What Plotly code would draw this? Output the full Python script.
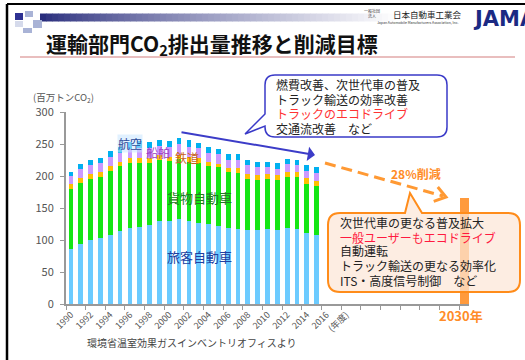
import math
import plotly.graph_objects as go

FONT = "Noto Sans CJK JP"

# ---------------- data (million t-CO2) ----------------
years = list(range(1990, 2016))
passenger = [86, 94, 100, 103, 108, 114, 118.5, 121, 123, 129, 129, 133, 130,
             127, 125, 122, 118.5, 117, 115, 116, 116.5, 116, 118, 117, 111, 108]
freight = [93, 95.5, 95.5, 95.5, 100, 101, 102.5, 100, 98, 96.5, 94, 93, 92,
           94, 91, 91.5, 87, 88, 81, 78, 79.5, 77, 80, 81, 76.5, 76]
rail = [7.8, 7.4, 7.8, 7.2, 7.7, 7.3, 6.7, 7, 7, 7, 7, 7.5, 7.5,
        7, 6, 6, 6.9, 7.8, 7.2, 7.8, 7.2, 8.9, 8.4, 7.8, 9.4, 8.9]
ship = [13, 14.5, 14.6, 14.7, 14, 14, 15, 16, 15, 14, 15, 16.5, 16,
        15.5, 14.7, 14.3, 12.5, 12.5, 13.6, 11.5, 10.7, 9.4, 12.5, 11, 10.4, 12]
aviation = [6.6, 7.8, 7.8, 7.7, 9.5, 8.7, 10.3, 10, 9.5, 9, 10, 9, 10,
            8, 8.7, 8, 9.4, 9.4, 8.9, 8.3, 8.3, 8.9, 8.3, 8.9, 10.4, 8.8]
target_year = [2030]
target_value = [165]

tick_years = list(range(1990, 2017, 2)) + [2018]
tick_text = [str(y) for y in range(1990, 2017, 2)] + ["(年度)"]
boundary_ticks = [1989.5 + 2 * i for i in range(21)]
y_ticks = [0, 50, 100, 150, 200, 250, 300]

# ---------------- geometry helpers ----------------
W, H = 525, 360
L, R, T, B = 66, 469, 112, 304


def px(x):
    return (x - L) / (R - L)


def py(y):
    return (B - y) / (B - T)


def P(x, y):
    return f"{px(x):.5f},{py(y):.5f}"


fig = go.Figure()
series = [
    ("旅客自動車", passenger, "#6CCBFF"),
    ("貨物自動車", freight, "#14E614"),
    ("鉄道", rail, "#FFC000"),
    ("船舶", ship, "#CC99FF"),
    ("航空", aviation, "#00B0F0"),
]
for name, vals, col in series:
    fig.add_trace(go.Bar(x=years, y=vals, name=name, width=0.48,
                         marker=dict(color=col, line=dict(width=0))))
fig.add_trace(go.Bar(x=target_year, y=target_value, name="2030", width=0.9,
                     marker=dict(color="#FF9A3C", line=dict(width=0))))

shapes = []
ann = []


def text(s, x, y, size, color, xa="center", ya="middle", bold=False, bg=None):
    if bold:
        s = f"<b>{s}</b>"
    d = dict(text=s, x=px(x), y=py(y), xref="paper", yref="paper",
             showarrow=False, xanchor=xa, yanchor=ya,
             font=dict(size=size, color=color, family=FONT))
    if bg:
        d["bgcolor"] = bg
        d["borderpad"] = 0
    ann.append(d)


# ---- slide frame ----
shapes.append(dict(type="line", xref="paper", yref="paper", x0=px(7), x1=px(526),
                   y0=py(4), y1=py(4), line=dict(color="black", width=2), layer="above"))
shapes.append(dict(type="line", xref="paper", yref="paper", x0=px(7), x1=px(7),
                   y0=py(4), y1=py(361), line=dict(color="black", width=2.5), layer="above"))

# ---- header gradient bar ----
c0 = (40, 44, 124)
c1 = (255, 255, 255)
n = 60
gx0, gx1 = 40, 400
for i in range(n):
    t = i / (n - 1)
    t2 = t ** 0.8
    col = tuple(int(c0[k] + (c1[k] - c0[k]) * t2) for k in range(3))
    xa = gx0 + (gx1 - gx0) * i / n
    xb = gx0 + (gx1 - gx0) * (i + 1) / n + 0.5
    shapes.append(dict(type="rect", xref="paper", yref="paper", x0=px(xa), x1=px(xb),
                       y0=py(13.5), y1=py(21.5), line=dict(width=0),
                       fillcolor=f"rgb{col}", layer="below"))
for (xa, ya, xb, yb, col) in [(15, 13, 23, 20, "#2E3192"), (25, 11, 33, 17, "#A9B3D6"),
                              (33, 20, 42, 28, "#A9B3D6"), (23, 28, 32, 33, "#A9B3D6"),
                              (15, 21, 23, 27, "#D5DAEB")]:
    shapes.append(dict(type="rect", xref="paper", yref="paper", x0=px(xa), x1=px(xb),
                       y0=py(ya), y1=py(yb), line=dict(width=0), fillcolor=col, layer="below"))

# title underline
shapes.append(dict(type="line", xref="paper", yref="paper", x0=px(20), x1=px(515),
                   y0=py(57), y1=py(57), line=dict(color="#E2A9A9", width=1.5)))

# logo
text("一般社団<br>法人", 372, 13, 4, "#333")
text("日本自動車工業会", 427, 13.5, 8.5, "#222")
text("Japan Automobile Manufacturers Association, Inc.", 418, 22.5, 3.5, "#333")
ann.append(dict(text="<b>JAMA</b>", x=px(471), y=py(19), xref="paper", yref="paper",
                showarrow=False, xanchor="left", yanchor="middle",
                font=dict(size=21, color="#1B2A83", family="DejaVu Sans")))

# title
text("運輸部門CO<sub>2</sub>排出量推移と削減目標", 44, 44, 21, "#111", xa="left", bold=True)

# axis title
text("(百万トンCO<sub>2</sub>)", 63, 97.5, 9.5, "#555")

# series labels
text("航空", 130, 143.5, 12, "#2A4A9A", bg="rgba(200,230,255,0.55)")
text("船舶", 158, 152, 12, "#9B3FC0")
text("鉄道", 186.5, 157, 12, "#C8641E")
text("貨物自動車", 199.5, 197.5, 13, "#237A23")
text("旅客自動車", 199.5, 256, 13, "#2040A0")

# source
text("環境省温室効果ガスインベントリオフィスより", 191.5, 342.5, 10, "#444")

# ---- blue callout ----
x0, x1, y0, y1, r = 265, 447, 75, 137, 10
path = (f"M{P(x0 + r, y0)} L{P(x1 - r, y0)} Q{P(x1, y0)} {P(x1, y0 + r)} "
        f"L{P(x1, y1 - r)} Q{P(x1, y1)} {P(x1 - r, y1)} L{P(x0 + r, y1)} "
        f"Q{P(x0, y1)} {P(x0, y1 - r)} L{P(x0, 126)} L{P(245, 134)} L{P(x0, 114)} "
        f"L{P(x0, y0 + r)} Q{P(x0, y0)} {P(x0 + r, y0)} Z")
shapes.append(dict(type="path", xref="paper", yref="paper", path=path,
                   fillcolor="white", line=dict(color="#3A3AC8", width=1.5), layer="above"))
for s, yy, col in [("燃費改善、次世代車の普及", 84, "#222"),
                   ("トラック輸送の効率改善", 99, "#222"),
                   ("トラックのエコドライブ", 113, "#FF3333"),
                   ("交通流改善　など", 128, "#222")]:
    text(s, 274, yy, 12, col, xa="left")

# blue arrow
ann.append(dict(text="", x=px(315), y=py(155), xref="paper", yref="paper",
                ax=-135, ay=-23, showarrow=True, arrowhead=1, arrowsize=1.2,
                arrowwidth=2, arrowcolor="#3C3CC8"))

# ---- orange dashed arrow ----
sx, sy, ex, ey = 325, 163, 446, 197
shapes.append(dict(type="line", xref="paper", yref="paper", x0=px(sx), y0=py(sy),
                   x1=px(ex - 3), y1=py(ey - 1),
                   line=dict(color="#FF9933", width=3, dash="11px,6px"), layer="above"))
ang = math.atan2(ey - sy, ex - sx)
arm = 13
pts = []
for d in (math.radians(35), -math.radians(35)):
    pts.append((ex - arm * math.cos(ang + d), ey - arm * math.sin(ang + d)))
shapes.append(dict(type="path", xref="paper", yref="paper",
                   path=f"M{P(*pts[0])} L{P(ex, ey)} L{P(*pts[1])}",
                   line=dict(color="#FF9933", width=3), layer="above"))
text("28%削減", 416, 173, 12, "#FF8C28", bold=True)

# ---- orange callout ----
x0, x1, y0, y1, r = 328, 520, 213, 292, 12
path = (f"M{P(x0 + r, y0)} L{P(405, y0)} L{P(410, 193)} L{P(422, y0)} "
        f"L{P(x1 - r, y0)} Q{P(x1, y0)} {P(x1, y0 + r)} "
        f"L{P(x1, y1 - r)} Q{P(x1, y1)} {P(x1 - r, y1)} L{P(x0 + r, y1)} "
        f"Q{P(x0, y1)} {P(x0, y1 - r)} L{P(x0, y0 + r)} Q{P(x0, y0)} {P(x0 + r, y0)} Z")
shapes.append(dict(type="path", xref="paper", yref="paper", path=path,
                   fillcolor="rgba(252,230,215,0.72)",
                   line=dict(color="#FF8C1A", width=2), layer="above"))
for s, yy, col in [("次世代車の更なる普及拡大", 222, "#222"),
                   ("一般ユーザーもエコドライブ", 237, "#FF1A40"),
                   ("自動運転", 250.5, "#222"),
                   ("トラック輸送の更なる効率化", 265, "#222"),
                   ("ITS・高度信号制御　など", 280, "#222")]:
    text(s, 338, yy, 12, col, xa="left")

text("2030年", 461, 315.5, 13, "#FF8C28", bold=True)

fig.update_layout(
    width=W, height=H,
    margin=dict(l=L, r=W - R, t=T, b=H - B),
    barmode="stack",
    showlegend=False,
    plot_bgcolor="white", paper_bgcolor="white",
    font=dict(family=FONT),
    shapes=shapes, annotations=ann,
    xaxis=dict(range=[1989.5, 2030.5], tickmode="array", tickvals=tick_years,
               ticktext=tick_text, tickangle=-45, ticks="outside", ticklen=0,
               tickfont=dict(size=9, color="#555", family=FONT),
               showline=True, linecolor="#999", linewidth=2, showgrid=False,
               zeroline=False,
               minor=dict(tickmode="array", tickvals=boundary_ticks, ticks="outside",
                          ticklen=4, tickcolor="#999", tickwidth=1, showgrid=False)),
    yaxis=dict(range=[0, 300], tickmode="array", tickvals=y_ticks, ticks="outside",
               ticklen=4, tickcolor="#999", tickfont=dict(size=11, color="#555"),
               showline=True, linecolor="#999", linewidth=2, showgrid=False,
               zeroline=False, ticklabelstandoff=4),
)

fig.write_html("out.html")
